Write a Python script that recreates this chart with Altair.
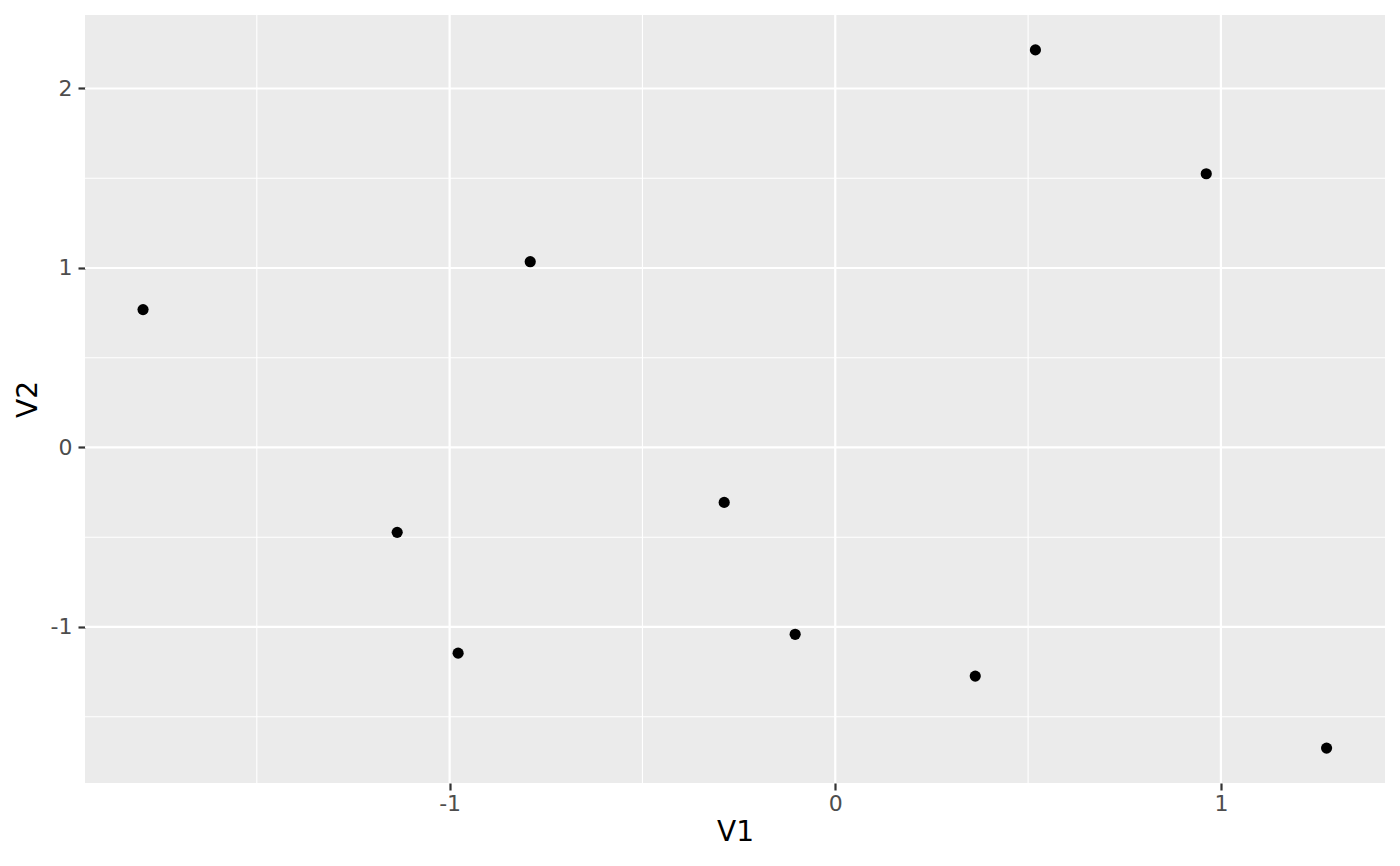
import altair as alt
import pandas as pd

v1 = [-1.795, -1.136, -0.978, -0.791, -0.288, -0.104, 0.363, 0.519, 0.962, 1.274]
v2 = [0.768, -0.473, -1.146, 1.035, -0.306, -1.041, -1.274, 2.215, 1.525, -1.675]

x_major = [-1, 0, 1]
x_minor = [-1.5, -0.5, 0.5]
y_major = [-1, 0, 1, 2]
y_minor = [-1.5, -0.5, 0.5, 1.5]

df = pd.DataFrame({"V1": v1, "V2": v2})
xdom = [-1.9455, 1.4255]
ydom = [-1.8695, 2.4095]

xs = alt.Scale(domain=xdom, nice=False, zero=False)
ys = alt.Scale(domain=ydom, nice=False, zero=False)

font = "DejaVu Sans"
xaxis = alt.Axis(values=x_major, grid=False, domain=False, tickSize=7, tickWidth=2.2,
                 tickColor="#333333", labelColor="#4D4D4D", labelFontSize=22, labelFont=font,
                 labelPadding=3, labelExpr="datum.value", titleFont=font, titleFontSize=28,
                 titleFontWeight="normal", titleColor="#000000", titlePadding=4)
yaxis = alt.Axis(values=y_major, grid=False, domain=False, tickSize=7, tickWidth=2.2,
                 tickColor="#333333", labelColor="#4D4D4D", labelFontSize=22, labelFont=font,
                 labelPadding=6, labelExpr="datum.value", titleFont=font, titleFontSize=28,
                 titleFontWeight="normal", titleColor="#000000", titlePadding=8)

vminor = alt.Chart(pd.DataFrame({"x": x_minor})).mark_rule(color="white", strokeWidth=1.1).encode(
    x=alt.X("x:Q", scale=xs, axis=xaxis, title="V1"))
vmajor = alt.Chart(pd.DataFrame({"x": x_major})).mark_rule(color="white", strokeWidth=2.2).encode(
    x=alt.X("x:Q", scale=xs, axis=xaxis, title="V1"))
hminor = alt.Chart(pd.DataFrame({"y": y_minor})).mark_rule(color="white", strokeWidth=1.1).encode(
    y=alt.Y("y:Q", scale=ys, axis=yaxis, title="V2"))
hmajor = alt.Chart(pd.DataFrame({"y": y_major})).mark_rule(color="white", strokeWidth=2.2).encode(
    y=alt.Y("y:Q", scale=ys, axis=yaxis, title="V2"))

points = alt.Chart(df).mark_circle(color="black", opacity=1, size=125).encode(
    x=alt.X("V1:Q", scale=xs, axis=xaxis, title="V1"),
    y=alt.Y("V2:Q", scale=ys, axis=yaxis, title="V2"),
)

chart = alt.layer(vminor, hminor, vmajor, hmajor, points).properties(
    width=1300, height=768,
    autosize=alt.AutoSizeParams(type="none"),
    padding={"left": 77, "top": 7, "right": 7, "bottom": 75},
).configure_view(fill="#EBEBEB", stroke=None)

chart.save("out.html", embed_options={"renderer": "svg", "actions": False})
